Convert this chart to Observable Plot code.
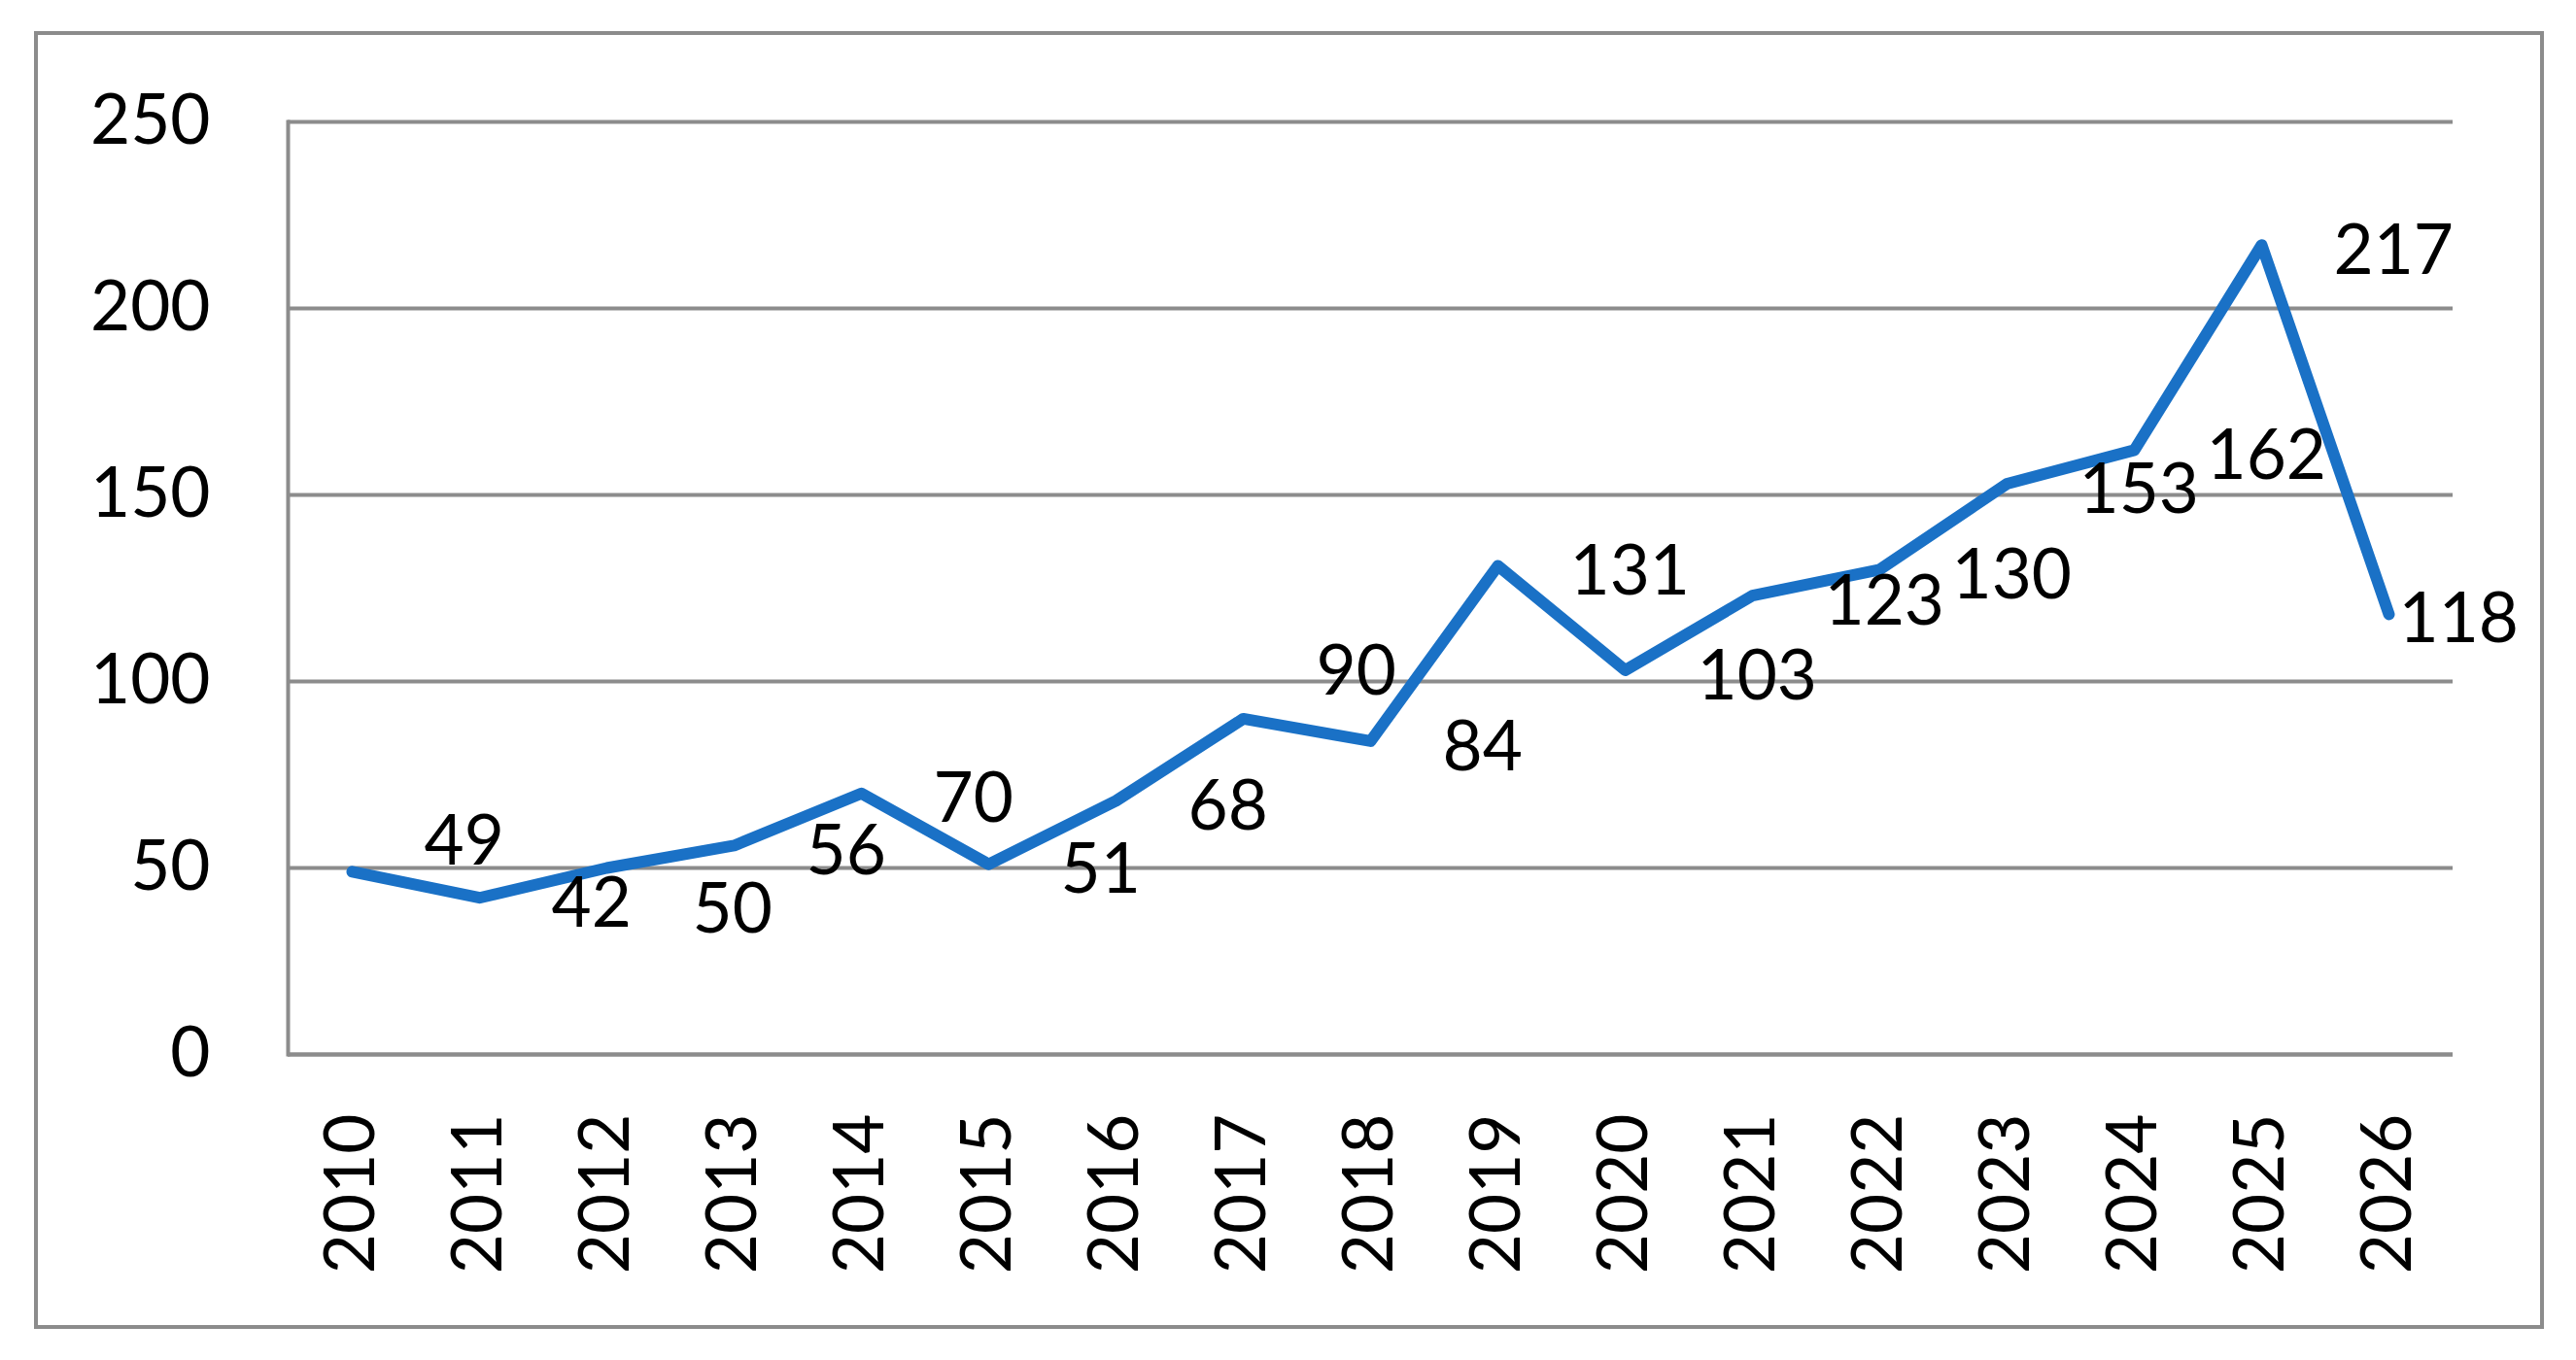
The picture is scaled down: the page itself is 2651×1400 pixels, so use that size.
<!DOCTYPE html>
<html>
<head>
<meta charset="utf-8">
<script src="https://cdn.jsdelivr.net/npm/d3@7"></script>
<script src="https://cdn.jsdelivr.net/npm/@observablehq/plot@0.6"></script>
<style>
html, body { margin: 0; padding: 0; background: #ffffff; }
#wrap { position: relative; width: 2651px; height: 1400px; overflow: hidden; }
#frame { position: absolute; left: 35px; top: 32px; width: 2583px; height: 1336px; border: 4px solid #8c8c8c; box-sizing: border-box; }
#chart { position: absolute; left: 0; top: 0; }
</style>
</head>
<body>
<div id="wrap"><div id="frame"></div><div id="chart"></div></div>
<script>
const years = ["2010","2011","2012","2013","2014","2015","2016","2017","2018","2019","2020","2021","2022","2023","2024","2025","2026"];
const values = [49, 42, 50, 56, 70, 51, 68, 90, 84, 131, 103, 123, 130, 153, 162, 217, 118];
const yTicks = [0, 50, 100, 150, 200, 250];

const data = years.map((year, i) => ({year, value: values[i]}));
const special = ["2010", "2012", "2017", "2026"];
const pick = (y) => data.filter(d => d.year === y);

const textOpts = {x: "year", y: "value", text: d => String(d.value), textAnchor: "start", fontSize: 71, fill: "#000000"};

const chart = Plot.plot({
  width: 2651,
  height: 1400,
  marginLeft: 296,
  marginRight: 127,
  marginTop: 125,
  marginBottom: 315,
  style: {fontFamily: "Lato, 'Open Sans', sans-serif", background: "transparent", color: "#000000"},
  x: {type: "point", domain: years, padding: 0.5},
  y: {domain: [0, 250]},
  marks: [
    Plot.gridY(yTicks, {stroke: "#8c8c8c", strokeOpacity: 1, strokeWidth: 4}),
    Plot.frame({anchor: "left", stroke: "#8c8c8c", strokeWidth: 4}),
    Plot.ruleY([0], {stroke: "#8c8c8c", strokeWidth: 4}),
    Plot.axisY(yTicks, {tickSize: 0, tickPadding: 80, fontSize: 71, label: null, fill: "#000000"}),
    Plot.axisX(years, {tickSize: 0, tickPadding: 61, tickRotate: -90, fontSize: 71, label: null, fill: "#000000"}),
    Plot.line(data, {x: "year", y: "value", stroke: "#1a71c6", strokeWidth: 12, strokeLinejoin: "round", strokeLinecap: "round"}),
    Plot.text(data.filter(d => !special.includes(d.year)), {...textOpts, dx: 74, dy: 7}),
    Plot.text(pick("2010"), {...textOpts, dx: 74, dy: -30}),
    Plot.text(pick("2012"), {...textOpts, dx: 88, dy: 44}),
    Plot.text(pick("2017"), {...textOpts, dx: 75, dy: -48}),
    Plot.text(pick("2026"), {...textOpts, dx: 10, dy: 6})
  ]
});
document.getElementById("chart").appendChild(chart);
</script>
</body>
</html>
